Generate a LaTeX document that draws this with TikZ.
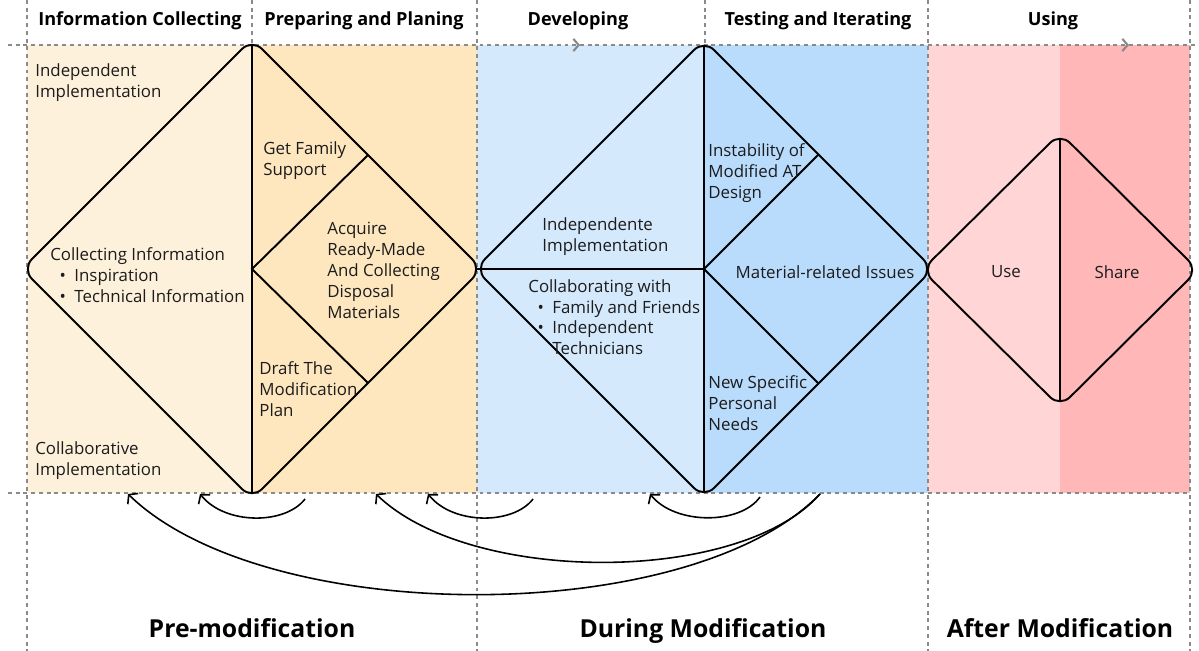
\documentclass[tikz,border=0pt]{standalone}
\usepackage{fontspec}
\setmainfont{Open Sans}
\usepackage{tikz}
\usetikzlibrary{arrows.meta,calc}
\definecolor{cream}{HTML}{FEF1DC}
\definecolor{peach}{HTML}{FEE7BF}
\definecolor{skyA}{HTML}{D5E9FD}
\definecolor{skyB}{HTML}{B9DBFC}
\definecolor{roseA}{HTML}{FFD5D6}
\definecolor{roseB}{HTML}{FFB7B8}
\definecolor{guide}{HTML}{8A8A8A}
\definecolor{ink}{HTML}{1C1C1C}
\tikzset{
  guideline/.style={guide,line width=1.2pt,dash pattern=on 2.2pt off 2.2pt},
  phase/.style={font=\fontsize{10.3}{12}\selectfont\bfseries,black,anchor=base},
  stage/.style={font=\fontsize{14.1}{17}\selectfont\bfseries,black,anchor=base},
  body/.style={font=\fontsize{9.6}{11.9}\selectfont,ink,align=left,inner sep=0pt},
  outline/.style={black,line width=1.1pt,rounded corners=0.28cm},
  split/.style={black,line width=1.1pt},
  loop/.style={black,line width=0.9pt,-{Straight Barb[length=3.4pt,width=8.5pt]}},
}
\newcommand{\bul}{\hspace*{0.55em}\textbullet\hspace{0.5em}}
\newcommand{\bulgap}{\hspace*{0.55em}\phantom{\textbullet}\hspace{0.5em}}
\begin{document}
\begin{tikzpicture}[x=0.02cm,y=-0.02cm]
\useasboundingbox (0,0) rectangle (1199,651);
% background bands
\fill[cream] (27,45) rectangle (252,493);
\fill[peach] (252,45) rectangle (477,493);
\fill[skyA] (477,45) rectangle (705,493);
\fill[skyB] (705,45) rectangle (928,493);
\fill[roseA] (928,45) rectangle (1060,493);
\fill[roseB] (1060,45) rectangle (1190,493);
% guide lines
\foreach \x in {27,477,928,1190} \draw[guideline] (\x,0) -- (\x,651);
\foreach \x in {252,705} \draw[guideline] (\x,0) -- (\x,45);
\draw[guideline] (8,493) -- (1190,493);
\draw[guideline,-{Straight Barb[length=3pt,width=7pt]}] (8,45) -- (580,45);
\draw[guideline,-{Straight Barb[length=3pt,width=7pt]}] (580,45) -- (1129,45);
\draw[guideline] (1129,45) -- (1199,45);
% phase titles
\node[phase] (info) at (140,26) {Information Collecting};
\node[phase] (prep) at (364,26) {Preparing and Planing};
\node[phase] (dev) at (578,26) {Developing};
\node[phase] (test) at (818,26) {Testing and Iterating};
\node[phase] (using) at (1053,26) {Using};
% first diamond
\draw[outline] (22,269) -- (252,39) -- (482,269) -- (252,499) -- cycle;
\draw[split] (252,45) -- (252,493);
\draw[split] (368,155) -- (252,269) -- (368,383);
% second diamond
\draw[outline] (475,269) -- (704,40) -- (933,269) -- (704,498) -- cycle;
\draw[split] (704,45) -- (704,493);
\draw[split] (477,269) -- (704,269);
\draw[split] (818,155) -- (704,269) -- (818,383);
% third diamond
\draw[outline] (922,270) -- (1060,133) -- (1198,270) -- (1060,407) -- cycle;
\draw[split] (1060,139) -- (1060,401);
% texts of the first diamond
\node[body,anchor=north west] (indep) at (35,63) {Independent\\Implementation};
\node[body,anchor=north west] (collect) at (50,247) {Collecting Information\\\bul Inspiration\\\bul Technical Information};
\node[body,anchor=north west] (collab) at (35,441) {Collaborative\\Implementation};
\node[body,anchor=north west] (family) at (263,141) {Get Family\\Support};
\node[body,anchor=north west] (acquire) at (327,222) {Acquire\\Ready-Made\\And Collecting\\Disposal\\Materials};
\node[body,anchor=north west] (draft) at (259,361) {Draft The\\Modification\\Plan};
% texts of the second diamond
\node[body,anchor=north west] (indepdev) at (542,217) {Independente\\Implementation};
\node[body,anchor=north west] (collabdev) at (528,279) {Collaborating with\\\bul Family and Friends\\\bul Independent\\\bulgap Technicians};
\node[body,anchor=north west] (instab) at (708,143) {Instability of\\Modified AT\\Design};
\node[body] (material) at (825,272) {Material-related Issues};
\node[body,anchor=north west] (needs) at (708,375) {New Specific\\Personal\\Needs};
% texts of the third diamond
\node[body] (use) at (1006,272) {Use};
\node[body] (share) at (1117,272) {Share};
% stage titles
\node[stage] (pre) at (252,637) {Pre-modification};
\node[stage] (during) at (703,637) {During Modification};
\node[stage] (after) at (1060,637) {After Modification};
% loop ends
\coordinate (a1) at (305,499); \coordinate (b1) at (200,494);
\coordinate (a2) at (533,499); \coordinate (b2) at (428,494);
\coordinate (a3) at (760,497); \coordinate (b3) at (650,494);
\coordinate (a4) at (820,494); \coordinate (b4) at (376,494);
\coordinate (b5) at (128,494);
% iteration loops
\draw[loop] (a1) .. controls (285,525) and (225,525) .. (b1);
\draw[loop] (a2) .. controls (513,525) and (453,525) .. (b2);
\draw[loop] (a3) .. controls (740,525) and (675,525) .. (b3);
\draw[loop] (a4) .. controls (740,585) and (470,585) .. (b4);
\draw[loop] (a4) .. controls (690,628) and (266,628) .. (b5);
\end{tikzpicture}
\end{document}
